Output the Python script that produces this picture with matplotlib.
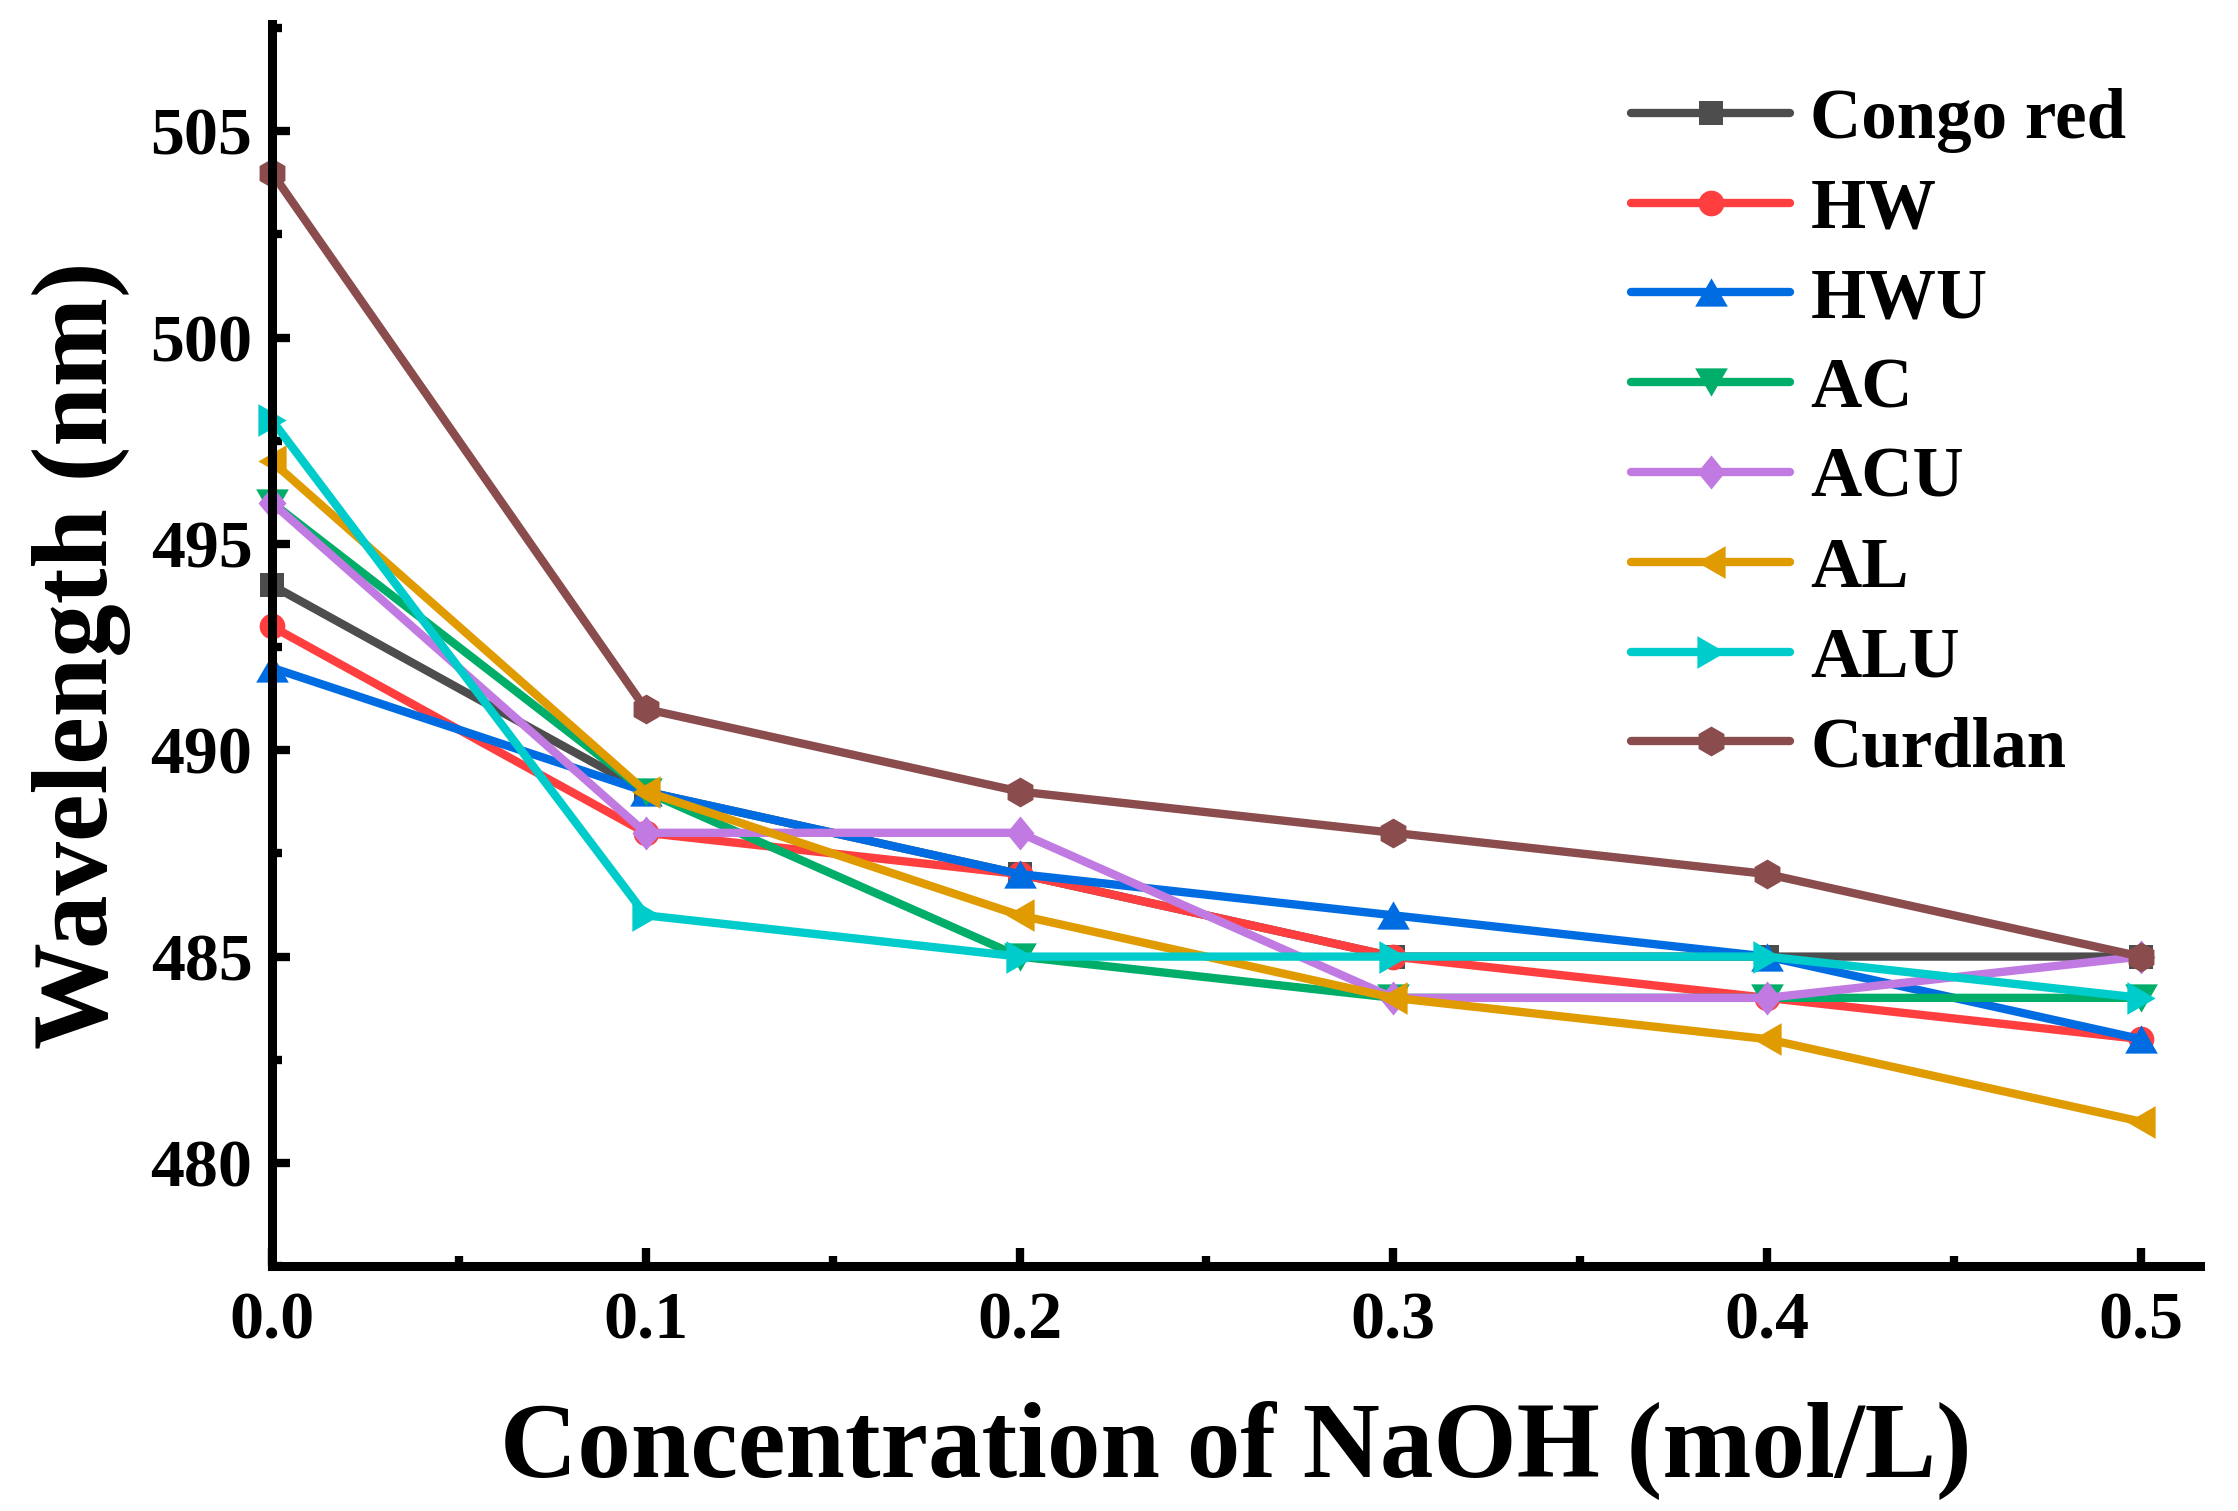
import matplotlib
matplotlib.use("Agg")
import matplotlib.pyplot as plt
from matplotlib.ticker import MultipleLocator, FormatStrFormatter

# Data
naoh = [0.0, 0.1, 0.2, 0.3, 0.4, 0.5]
series_names = ["Congo red", "HW", "HWU", "AC", "ACU", "AL", "ALU", "Curdlan"]
congo_red = [494, 489, 487, 485, 485, 485]
hw = [493, 488, 487, 485, 484, 483]
hwu = [492, 489, 487, 486, 485, 483]
ac = [496, 489, 485, 484, 484, 484]
acu = [496, 488, 488, 484, 484, 485]
al = [497, 489, 486, 484, 483, 481]
alu = [498, 486, 485, 485, 485, 484]
curdlan = [504, 491, 489, 488, 487, 485]

series_values = [congo_red, hw, hwu, ac, acu, al, alu, curdlan]

# Styles
colors = ["#4d4d4d", "#ff3f3f", "#006ce2", "#00ad69", "#c07ae2", "#df9b00", "#00cccc", "#8a4c4c"]
tri_up = [(-1, -0.866), (1, -0.866), (0, 0.866)]
tri_down = [(-1, 0.866), (1, 0.866), (0, -0.866)]
tri_left = [(-0.866, 0), (0.866, 1), (0.866, -1)]
tri_right = [(0.866, 0), (-0.866, 1), (-0.866, -1)]
diamond = [(0, 1), (0.82, 0), (0, -1), (-0.82, 0)]
markers = ["s", "o", tri_up, tri_down, diamond, tri_left, tri_right, "h"]
msizes = [17, 18.5, 23.5, 23.5, 24.5, 23.5, 23.5, 21.5]

plt.rcParams["font.family"] = ["Liberation Serif", "DejaVu Serif"]
plt.rcParams["font.weight"] = "bold"

fig = plt.figure(figsize=(22.38, 15.11), dpi=100)
ax = fig.add_axes([0.1215, 0.1621, 0.8615, 0.8220])

for name, vals, c, m, ms in zip(series_names, series_values, colors, markers, msizes):
    ax.plot(naoh, vals, color=c, marker=m, markersize=ms, linewidth=6,
            markeredgewidth=0, label=name, clip_on=False,
            solid_capstyle="round", solid_joinstyle="round")

ax.set_xlim(0, 0.5158)
ax.set_ylim(477.5, 507.6)

ax.xaxis.set_major_locator(MultipleLocator(0.1))
ax.xaxis.set_minor_locator(MultipleLocator(0.05))
ax.yaxis.set_major_locator(MultipleLocator(5))
ax.yaxis.set_minor_locator(MultipleLocator(2.5))
ax.xaxis.set_major_formatter(FormatStrFormatter("%.1f"))
ax.yaxis.set_major_formatter(FormatStrFormatter("%d"))

for s in ["top", "right"]:
    ax.spines[s].set_visible(False)
for s in ["left", "bottom"]:
    ax.spines[s].set_linewidth(6.5)
    ax.spines[s].set_capstyle("projecting")

ax.tick_params(axis="both", which="major", direction="in", length=13, width=6,
               labelsize=49)
ax.tick_params(axis="both", which="minor", direction="in", length=7, width=6)
ax.tick_params(axis="x", which="major", pad=18)
ax.tick_params(axis="y", which="major", pad=14)
for lab in ax.get_xticklabels() + ax.get_yticklabels():
    lab.set_fontweight("bold")

ax.set_xlabel("Concentration of NaOH (mol/L)", fontsize=77, fontweight="bold", labelpad=35)
ax.set_ylabel("Wavelength (nm)", fontsize=77, fontweight="bold", labelpad=14)
ax.yaxis.label.set_y(0.492)

leg = ax.legend(loc="upper left", bbox_to_anchor=(0.7288, 0.942),
                bbox_transform=fig.transFigure, frameon=False, fontsize=51,
                handlelength=2.25, handletextpad=0.28, labelspacing=0.35,
                borderpad=0, borderaxespad=0)
for t in leg.get_texts():
    t.set_fontweight("bold")

fig.savefig("out.png", dpi=100)
